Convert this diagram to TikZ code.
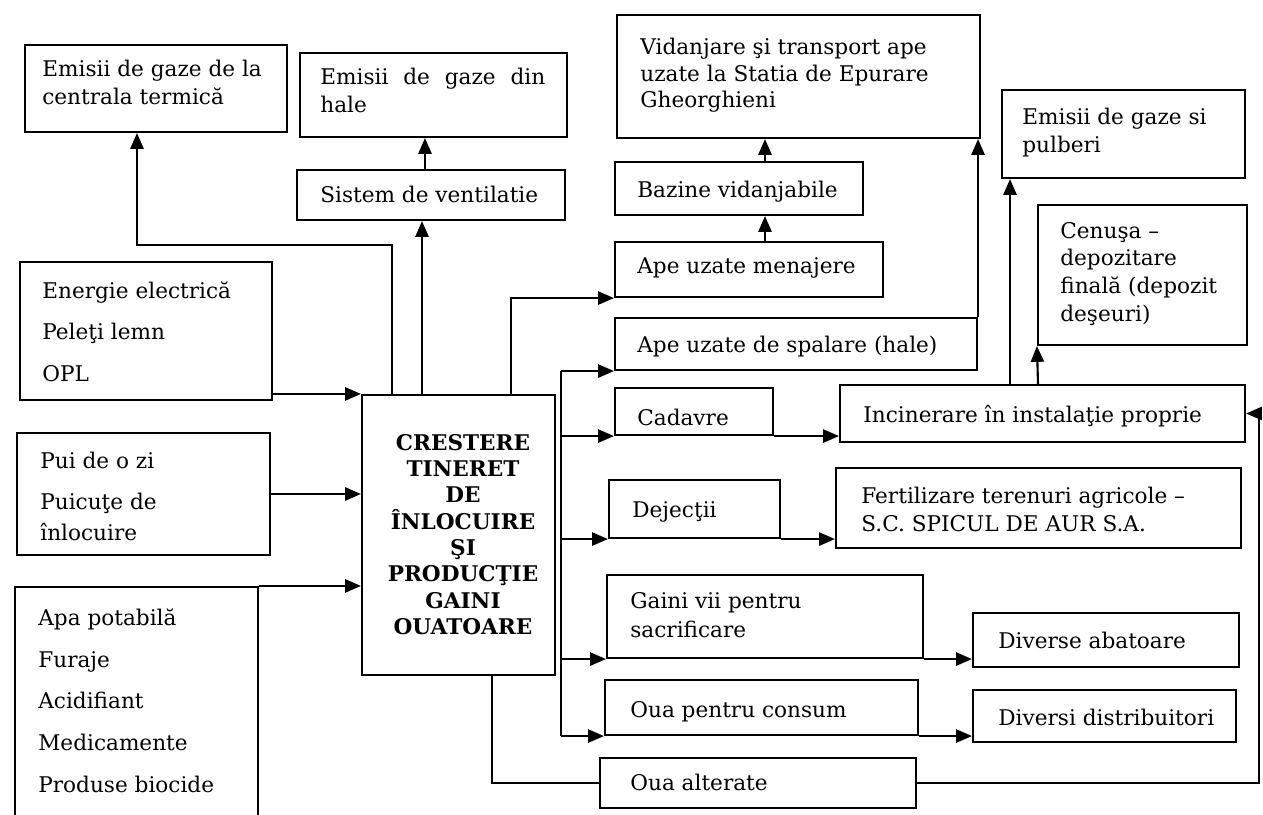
\documentclass[tikz,border=0pt]{standalone}
\usepackage{fontspec}
\setmainfont{DejaVu Serif}
\usetikzlibrary{arrows.meta,fit,calc}
\newcommand\tl[1]{\parbox[t]{9cm}{\raggedright #1}}
\begin{document}
\begin{tikzpicture}[x=0.02cm,y=-0.02cm,
  box/.style={draw, line width=1.2pt, inner sep=0pt},
  txt/.style={anchor=base west, inner sep=0pt},
  arr/.style={-{Triangle[length=9pt,width=7.5pt]}, line width=1.2pt},
  ln/.style={line width=1.2pt},
  every node/.style={font=\fontsize{12.3}{15.4}\selectfont}]
\clip (0,0) rectangle (1263,814);
\fill[white] (0,0) rectangle (1263,814);
% boxes
\node[box, fit={(25,45)(287,132)}] (ec) {};
\node[box, fit={(300,53)(567,137)}] (eh) {};
\node[box, fit={(297,170)(565,220)}] (sv) {};
\node[box, fit={(617,15)(980,138)}] (vd) {};
\node[box, fit={(615,162)(863,215)}] (bz) {};
\node[box, fit={(615,242)(883,297)}] (am) {};
\node[box, fit={(615,318)(977,370)}] (as) {};
\node[box, fit={(1002,90)(1245,178)}] (ep) {};
\node[box, fit={(1038,205)(1247,345)}] (cz) {};
\node[box, fit={(840,385)(1245,442)}] (inc) {};
\node[box, fit={(615,388)(773,435)}] (cd) {};
\node[box, fit={(609,480)(780,538)}] (dj) {};
\node[box, fit={(836,468)(1241,548)}] (fz) {};
\node[box, fit={(607,575)(923,658)}] (gv) {};
\node[box, fit={(973,613)(1239,667)}] (da) {};
\node[box, fit={(605,680)(918,735)}] (oc) {};
\node[box, fit={(973,690)(1236,742)}] (dd) {};
\node[box, fit={(600,758)(916,808)}] (oa) {};
\node[box, fit={(20,262)(272,400)}] (en) {};
\node[box, fit={(17,433)(270,555)}] (pui) {};
\node[box, fit={(15,587)(258,830)}] (apa) {};
\node[box, fit={(362,395)(555,675)}] (cen) {};
% texts
\node[txt] (tec) at (42,77) {\tl{\baselineskip=15.9pt Emisii de gaze de la\\centrala termică}};
\node[txt] (teh) at (320,85) {\parbox[t]{4.5cm}{\baselineskip=15.4pt Emisii de gaze din hale}};
\node[txt] (tsv) at (320,202) {Sistem de ventilatie};
\node[txt] (tvd) at (640,55) {\tl{\baselineskip=14.8pt Vidanjare şi transport ape\\uzate la Statia de Epurare\\Gheorghieni}};
\node[txt] (tbz) at (637,197) {Bazine vidanjabile};
\node[txt] (tam) at (637,273) {Ape uzate menajere};
\node[txt] (tas) at (637,352) {Ape uzate de spalare (hale)};
\node[txt] (tep) at (1022,125) {\tl{\baselineskip=15.4pt Emisii de gaze si\\pulberi}};
\node[txt] (tcz) at (1060,238) {\tl{\baselineskip=15.9pt Cenuşa –\\depozitare\\finală (depozit\\deşeuri)}};
\node[txt] (tinc) at (863,422) {Incinerare în instalaţie proprie};
\node[txt] (tcd) at (637,425) {Cadavre};
\node[txt] (tdj) at (632,517) {Dejecţii};
\node[txt] (tfz) at (861,503) {\tl{\baselineskip=16.5pt Fertilizare terenuri agricole –\\S.C. SPICUL DE AUR S.A.}};
\node[txt] (tgv) at (630,608) {\tl{\baselineskip=17pt Gaini vii pentru\\sacrificare}};
\node[txt] (tda) at (998,648) {Diverse abatoare};
\node[txt] (toc) at (630,717) {Oua pentru consum};
\node[txt] (tdd) at (998,725) {Diversi distribuitori};
\node[txt] (toa) at (630,790) {Oua alterate};
\node[txt] (ten) at (42,298) {\tl{\baselineskip=15.4pt Energie electrică\\[8.5pt]Peleţi lemn\\[8.5pt]OPL}};
\node[txt] (tpui) at (40,468) {\tl{\baselineskip=15.4pt Pui de o zi\\[8.5pt]Puicuţe de\\[1.7pt]înlocuire}};
\node[txt] (tapa) at (38,625) {\tl{\baselineskip=15.4pt Apa potabilă\\[8.5pt]Furaje\\[8.5pt]Acidifiant\\[8.5pt]Medicamente\\[8.5pt]Produse biocide}};
\node[anchor=base, inner sep=0pt] (tcen) at (463,450) {\parbox[t]{4cm}{\centering\bfseries\baselineskip=15pt CRESTERE\\TINERET\\DE\\ÎNLOCUIRE\\ŞI\\PRODUCŢIE\\GAINI\\OUATOARE}};
% inputs
\draw[arr] (en.east |- cen.north) -- (cen.north west);
\draw[arr] (pui.east) -- (pui.east -| cen.west);
\draw[arr] (apa.north east) -- (apa.north east -| cen.west);
% upward outputs
\draw[arr] (cen.north -| 392,0) |- (137,245) -- (137,0 |- ec.south);
\draw[arr] (cen.north -| 422,0) -- (422,0 |- sv.south);
\draw[arr] (sv.north -| 425,0) -- (425,0 |- eh.south);
\draw[arr] (cen.north -| 511,0) |- (am.south west);
\draw[arr] (am.north -| 765,0) -- (765,0 |- bz.south);
\draw[arr] (bz.north -| 765,0) -- (765,0 |- vd.south);
\draw[arr] (as.north east) -- (as.north east |- vd.south);
% bus on the right of the central box
\draw[ln] (as.south west -| 561,0) -- (oc.south west -| 561,0);
\draw[arr] (as.south west -| 561,0) -- (as.south west);
\draw[arr] (cd.south west -| 561,0) -- (cd.south west);
\draw[arr] (dj.south west -| 561,0) -- (dj.south west);
\draw[arr] (gv.south west -| 561,0) -- (gv.south west);
\draw[arr] (oc.south west -| 561,0) -- (oc.south west);
% second level
\draw[arr] (cd.south east) -- (cd.south east -| inc.west);
\draw[arr] (inc.north -| 1010,0) -- (1010,0 |- ep.south);
\draw[arr] (inc.north -| 1038,0) -- (cz.south west);
\draw[arr] (dj.south east) -- (dj.south east -| fz.west);
\draw[arr] (gv.south east) -- (gv.south east -| da.west);
\draw[arr] (oc.south east) -- (oc.south east -| dd.west);
% altered eggs
\draw[ln] (cen.south -| 492,0) |- (oa.west);
\draw[arr] (oa.east) -- (oa.east -| 1259,0) |- (inc.east);
\end{tikzpicture}
\end{document}
